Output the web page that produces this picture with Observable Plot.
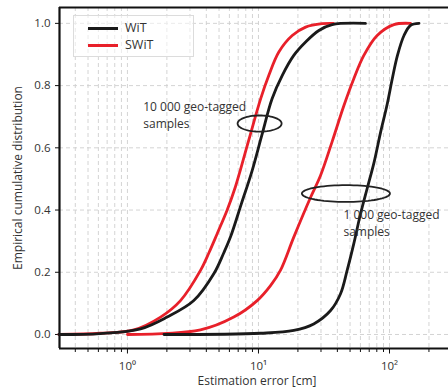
<!DOCTYPE html>
<html><head><meta charset="utf-8">
<script src="https://cdn.jsdelivr.net/npm/d3@7"></script>
<script src="https://cdn.jsdelivr.net/npm/@observablehq/plot@0.6"></script>
<style>
body{margin:0;background:#fff;}
#wrap{position:relative;width:448px;height:388px;overflow:hidden;}
#legend{position:absolute;left:73px;top:15px;width:121px;height:42px;border:1px solid #dcdcdc;box-sizing:border-box;background:rgba(255,255,255,0.55);font-family:"Open Sans",sans-serif;font-size:12.5px;color:#333;}
.row{position:absolute;left:0;height:16px;line-height:16px;}
.sw{position:absolute;left:14px;top:6.5px;width:30px;height:3.2px;}
.lb{position:absolute;left:51px;top:0;white-space:nowrap;}
</style></head>
<body><div id="wrap"></div>
<script>
// axis setup
const xDomain = [0.303, 282];
const yDomain = [-0.045, 1.051];
const yTicks = [0, 0.2, 0.4, 0.6, 0.8, 1.0];
const xMajorTicks = [1, 10, 100];
const xMajorLabels = ["10\u2070", "10\u00B9", "10\u00B2"];
const xMinorTicks = [0.4,0.5,0.6,0.7,0.8,0.9,2,3,4,5,6,7,8,9,20,30,40,50,60,70,80,90,200];

const seriesNames = ["WiT", "SWiT"];
const seriesColors = ["#1a1a1a", "#e8202a"];

// 10 000 geo-tagged samples
const wit10kX = [0.3, 0.62, 1.26, 2.01, 3.21, 4.56, 5.43, 6.11, 7.4, 8.95, 10.6, 12.7, 15.2, 18.6, 22.9, 28.9, 36.5, 65.6];
const wit10kY = [0, 0.003, 0.018, 0.056, 0.109, 0.195, 0.262, 0.313, 0.42, 0.527, 0.64, 0.758, 0.833, 0.897, 0.940, 0.977, 0.996, 1.0];
const swit10kX = [0.3, 0.62, 1.12, 1.79, 2.54, 3.61, 4.18, 4.84, 5.77, 6.67, 7.29, 8.7, 10.4, 12.0, 14.3, 18.1, 22.9, 30.6, 37.4];
const swit10kY = [0, 0.004, 0.015, 0.056, 0.109, 0.206, 0.262, 0.324, 0.40, 0.475, 0.53, 0.645, 0.758, 0.833, 0.908, 0.961, 0.988, 0.999, 1.0];
// 1 000 geo-tagged samples
const wit1kX = [1.9, 10.4, 18.6, 26.4, 35.5, 42.3, 47.5, 53.4, 60.1, 67.6, 75.9, 85.3, 96, 105, 115, 129, 145, 168];
const wit1kY = [0, 0.004, 0.013, 0.034, 0.077, 0.131, 0.206, 0.292, 0.388, 0.47, 0.55, 0.648, 0.74, 0.822, 0.897, 0.961, 0.994, 1.0];
const swit1kX = [1.0, 3.61, 6.48, 9.77, 12.4, 14.7, 18.6, 25, 29.7, 36.5, 44.9, 53.4, 63.7, 80.5, 108, 145];
const swit1kY = [0, 0.015, 0.056, 0.109, 0.158, 0.206, 0.313, 0.441, 0.51, 0.62, 0.736, 0.822, 0.897, 0.961, 0.996, 1.0];

// annotations
const annoText = ["10 000 geo-tagged\nsamples", "1 000 geo-tagged\nsamples"];
const annoX = [1.32, 44.5];
const annoY = [0.709, 0.360];
const ringCx = [10.2, 46.5];
const ringCy = [0.678, 0.453];
const ringRxDecades = [0.168, 0.336];
const ringRy = [0.026, 0.027];

const rows = [];
function add(xs, ys, method, set) { xs.forEach((x, i) => rows.push({x, y: ys[i], method, id: method + set})); }
add(swit10kX, swit10kY, "SWiT", "10k");
add(swit1kX, swit1kY, "SWiT", "1k");
add(wit10kX, wit10kY, "WiT", "10k");
add(wit1kX, wit1kY, "WiT", "1k");

const ringPts = [];
ringCx.forEach((cx, k) => {
  for (let i = 0; i <= 72; i++) {
    const a = i / 72 * 2 * Math.PI;
    ringPts.push({id: k, x: cx * Math.pow(10, ringRxDecades[k] * Math.cos(a)), y: ringCy[k] + ringRy[k] * Math.sin(a)});
  }
});
const annos = annoText.map((t, i) => ({t, x: annoX[i], y: annoY[i]}));

const font = '"Open Sans", sans-serif';
const chart = Plot.plot({
  width: 448, height: 388,
  marginLeft: 59, marginRight: 0, marginTop: 7, marginBottom: 40,
  style: {fontFamily: font, fontSize: "11.5px", color: "#333", background: "white", overflow: "visible"},
  x: {type: "log", domain: xDomain, axis: null},
  y: {domain: yDomain, axis: null},
  color: {domain: seriesNames, range: seriesColors},
  marks: [
    Plot.gridX(xMajorTicks.concat(xMinorTicks), {stroke: "#cfcfcf", strokeOpacity: 1, strokeDasharray: "4,3", strokeWidth: 0.9}),
    Plot.gridY(yTicks, {stroke: "#cfcfcf", strokeOpacity: 1, strokeDasharray: "4,3", strokeWidth: 0.9}),
    Plot.axisX(xMinorTicks, {tickSize: 4, tickFormat: () => "", stroke: "#111", label: null}),
    Plot.axisX(xMajorTicks, {tickSize: 5.5, tickPadding: 8, tickFormat: (d) => xMajorLabels[xMajorTicks.indexOf(d)], stroke: "#111", fill: "#333", fontSize: 11.5, label: null}),
    Plot.axisY(yTicks, {tickSize: 4, tickPadding: 5, tickFormat: ".1f", stroke: "#111", fill: "#333", fontSize: 11.5, label: null}),
    Plot.ruleY([yDomain[0]], {stroke: "#111", strokeWidth: 2.2}),
    Plot.ruleY([yDomain[1]], {stroke: "#111", strokeWidth: 2.2}),
    Plot.ruleX([xDomain[0]], {stroke: "#111", strokeWidth: 2.2}),
    Plot.line(rows, {x: "x", y: "y", z: "id", stroke: "method", strokeWidth: 2.8, curve: "catmull-rom"}),
    Plot.line(ringPts, {x: "x", y: "y", z: "id", stroke: "#222", strokeWidth: 1.8, curve: "linear"}),
    Plot.text(annos, {x: "x", y: "y", text: "t", textAnchor: "start", lineAnchor: "middle", lineHeight: 1.4, fontSize: 12, fill: "#333"}),
    Plot.text(["Estimation error [cm]"], {frameAnchor: "bottom", textAnchor: "middle", lineAnchor: "middle", dy: 33, dx: 3, fontSize: 12, fill: "#333"}),
    Plot.text(["Empirical cumulative distribution"], {frameAnchor: "left", textAnchor: "middle", lineAnchor: "middle", rotate: -90, dx: -41, fontSize: 12, fill: "#333"})
  ]
});
const wrap = document.getElementById("wrap");
wrap.appendChild(chart);
const legend = document.createElement("div");
legend.id = "legend";
seriesNames.forEach((n, i) => {
  const r = document.createElement("div");
  r.className = "row";
  r.style.top = (4 + i * 17) + "px";
  r.style.width = "100%";
  r.innerHTML = `<span class="sw" style="background:${seriesColors[i]}"></span><span class="lb">${n}</span>`;
  legend.appendChild(r);
});
wrap.appendChild(legend);
</script></body></html>
